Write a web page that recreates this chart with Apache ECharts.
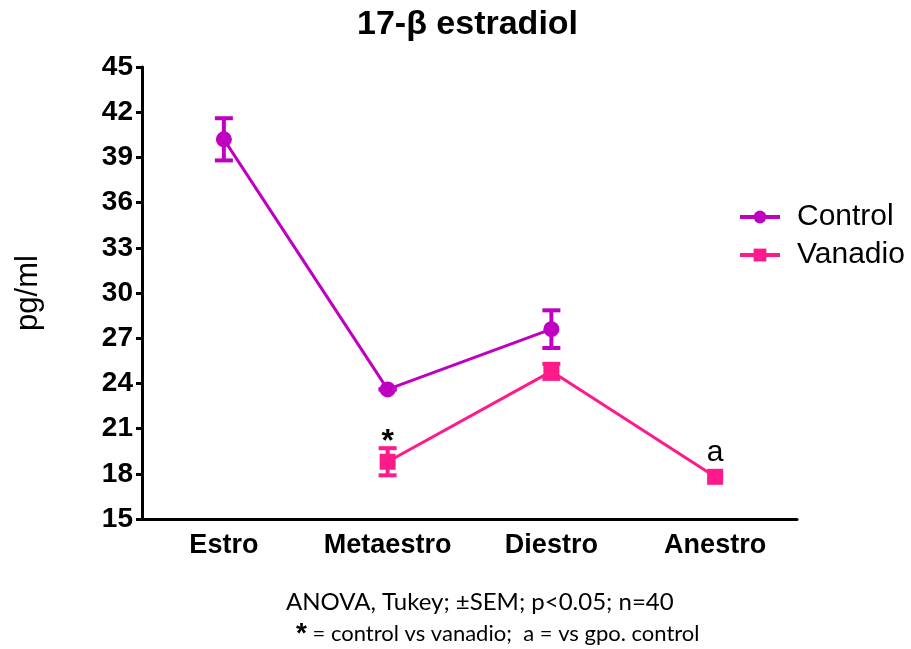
<!DOCTYPE html>
<html>
<head>
<meta charset="utf-8">
<script src="https://cdn.jsdelivr.net/npm/echarts@6/dist/echarts.min.js"></script>
<style>html,body{margin:0;padding:0;background:#fff;}#c{width:911px;height:649px;}</style>
</head>
<body>
<div id="c"></div>
<script>
const categories = ['Estro', 'Metaestro', 'Diestro', 'Anestro'];
const controlMean = [40.2, 23.6, 27.6, null];
const controlSem = [1.4, 0, 1.25, null];
const vanadioMean = [null, 18.8, 24.8, 17.8];
const vanadioSem = [null, 0.9, 0.5, null];
const vanadioMarks = ['', '*', '', 'a'];
const yTicks = [15, 18, 21, 24, 27, 30, 33, 36, 39, 42, 45];

const cControl = '#C000C0';
const cVanadio = '#FF1A8C';

function errData(mean, sem) {
  const out = [];
  mean.forEach((m, i) => { if (m != null && sem[i] != null) out.push([i, m - sem[i], m + sem[i]]); });
  return out;
}
function errSeries(name, mean, sem, color) {
  return {
    type: 'custom', name: name, z: 3,
    data: errData(mean, sem),
    encode: { x: 0, y: [1, 2] },
    renderItem: function (params, api) {
      const x = api.value(0);
      const lo = api.coord([x, api.value(1)]);
      const hi = api.coord([x, api.value(2)]);
      const hw = 9;
      const st = { stroke: color, lineWidth: 4, fill: null };
      return { type: 'group', children: [
        { type: 'line', shape: { x1: lo[0], y1: lo[1], x2: hi[0], y2: hi[1] }, style: st },
        { type: 'line', shape: { x1: lo[0] - hw, y1: lo[1], x2: lo[0] + hw, y2: lo[1] }, style: st },
        { type: 'line', shape: { x1: hi[0] - hw, y1: hi[1], x2: hi[0] + hw, y2: hi[1] }, style: st }
      ]};
    }
  };
}

const chart = echarts.init(document.getElementById('c'));
chart.setOption({
  animation: false,
  backgroundColor: '#fff',
  title: {
    text: '17-β estradiol', left: 352, top: 3,
    textStyle: { fontFamily: 'Liberation Sans, Arial', fontWeight: 'bold', fontSize: 34, color: '#000' }
  },
  legend: {
    orient: 'vertical', left: 733, top: 197, itemWidth: 40, itemHeight: 16, itemGap: 8,
    lineStyle: { width: 4 },
    textStyle: { fontFamily: 'Liberation Sans, Arial', fontSize: 30, color: '#000', padding: [0, 0, 0, 12] },
    data: ['Control', 'Vanadio']
  },
  grid: { left: 142, right: 114, top: 67, bottom: 130 },
  xAxis: {
    type: 'category', data: categories, boundaryGap: true,
    axisLine: { lineStyle: { color: '#000', width: 3 } },
    axisTick: { alignWithLabel: true, length: 7, lineStyle: { width: 3, color: '#000' } },
    axisLabel: { interval: 0, hideOverlap: false, fontFamily: 'Liberation Sans, Arial', fontWeight: 'bold', fontSize: 27, color: '#000', margin: 13 }
  },
  yAxis: {
    type: 'value', min: yTicks[0], max: yTicks[yTicks.length - 1], interval: 3,
    name: 'pg/ml', nameLocation: 'middle', nameGap: 98, nameRotate: 90,
    nameTextStyle: { fontFamily: 'Liberation Sans, Arial', fontSize: 31, color: '#000' },
    axisLine: { show: true, lineStyle: { color: '#000', width: 3 } },
    axisTick: { show: true, length: 6, lineStyle: { width: 3, color: '#000' } },
    splitLine: { show: false },
    axisLabel: { fontFamily: 'Liberation Sans, Arial', fontWeight: 'bold', fontSize: 28, color: '#000', margin: 9 }
  },
  series: [
    {
      name: 'Control', type: 'line', data: controlMean, color: cControl,
      symbol: 'circle', symbolSize: 16, lineStyle: { width: 3 }, z: 4
    },
    {
      name: 'Vanadio', type: 'line', data: vanadioMean.map((v, i) => ({
        value: v,
        label: {
          show: vanadioMarks[i] !== '', formatter: vanadioMarks[i],
          fontWeight: vanadioMarks[i] === '*' ? 'bold' : 'normal',
          fontSize: vanadioMarks[i] === '*' ? 32 : 30,
          distance: vanadioMarks[i] === '*' ? -4 : 1
        }
      })),
      color: cVanadio, symbol: 'rect', symbolSize: 16, lineStyle: { width: 3 }, z: 4,
      label: { position: 'top', color: '#000', fontFamily: 'Liberation Sans, Arial' }
    },
    errSeries('Control', controlMean, controlSem, cControl),
    errSeries('Vanadio', vanadioMean, vanadioSem, cVanadio)
  ],
  graphic: [
    { type: 'text', left: 286, top: 590, style: { text: 'ANOVA, Tukey; ±SEM; p<0.05; n=40', font: '24px Lato, "Open Sans", sans-serif', fill: '#000' } },
    { type: 'text', left: 296, top: 620, style: {
      text: '{s|*} = control vs vanadio;  a = vs gpo. control',
      font: '22px Lato, "Open Sans", sans-serif', fill: '#000',
      rich: { s: { font: 'bold 28px "Liberation Sans", Arial', fill: '#000', verticalAlign: 'bottom' } }
    } }
  ]
});
</script>
</body>
</html>
